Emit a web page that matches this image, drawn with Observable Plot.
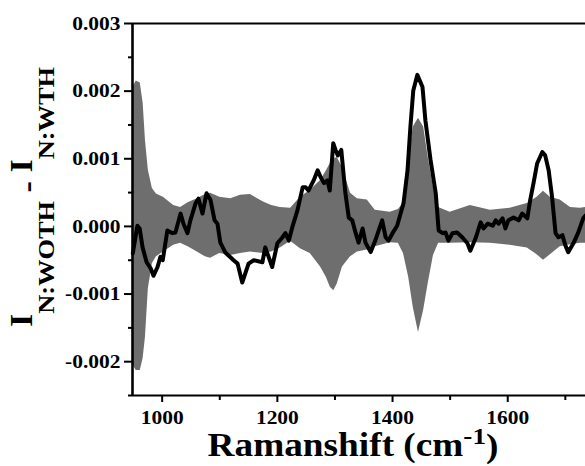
<!DOCTYPE html>
<html><head><meta charset="utf-8">
<script src="https://cdn.jsdelivr.net/npm/d3@7"></script>
<script src="https://cdn.jsdelivr.net/npm/@observablehq/plot@0.6"></script>
<style>
html,body{margin:0;padding:0;background:#fff;overflow:hidden}
</style></head><body><div id="chart"></div>
<script>
// Values in units of 1e-3 (intensity difference)
const bandX = [949,955,962,967,971,976,983,990,1002,1020,1032,1045,1061,1075,1084,1100,1119,1136,1153,1176,1190,1205,1223,1240,1257,1275,1285,1292,1298,1304,1313,1327,1339,1356,1370,1396,1410,1419,1428,1436,1445,1454,1462,1471,1480,1500,1535,1570,1604,1634,1651,1662,1674,1691,1709,1726,1735];
const bandUpper = [2.05,2.15,2.12,1.82,1.27,0.83,0.56,0.48,0.43,0.31,0.28,0.35,0.41,0.47,0.49,0.43,0.41,0.46,0.47,0.36,0.31,0.28,0.27,0.43,0.53,0.68,0.82,0.93,1.0,1.02,0.87,0.49,0.41,0.39,0.24,0.21,0.25,0.34,0.98,1.47,1.6,1.47,1.02,0.58,0.28,0.21,0.31,0.24,0.27,0.34,0.43,0.52,0.43,0.39,0.28,0.27,0.28];
const bandLower = [-2.05,-2.13,-2.13,-1.95,-1.64,-0.92,-0.55,-0.45,-0.38,-0.28,-0.25,-0.3,-0.38,-0.45,-0.47,-0.4,-0.43,-0.4,-0.38,-0.4,-0.38,-0.32,-0.22,-0.33,-0.4,-0.6,-0.75,-0.9,-0.95,-0.85,-0.6,-0.45,-0.38,-0.35,-0.3,-0.24,-0.25,-0.4,-0.75,-1.2,-1.57,-1.24,-0.84,-0.43,-0.25,-0.25,-0.24,-0.25,-0.28,-0.32,-0.42,-0.5,-0.42,-0.3,-0.27,-0.25,-0.25];

const lineX = [949,957,961,966,973,980,985,992,997,1001,1009,1018,1023,1032,1037,1044,1049,1058,1063,1070,1077,1084,1091,1096,1101,1110,1119,1124,1131,1139,1150,1159,1174,1179,1191,1200,1209,1214,1220,1226,1235,1244,1249,1254,1263,1270,1275,1281,1287,1291,1297,1301,1305,1311,1318,1324,1330,1336,1341,1348,1353,1362,1370,1376,1382,1388,1393,1400,1408,1414,1419,1426,1431,1436,1443,1452,1457,1466,1475,1480,1487,1492,1497,1504,1512,1521,1530,1535,1544,1553,1558,1565,1574,1579,1584,1591,1596,1601,1610,1619,1625,1634,1639,1645,1651,1660,1665,1671,1677,1683,1688,1695,1700,1705,1714,1722,1731,1735];
const lineY = [-0.40,0.01,-0.03,-0.31,-0.53,-0.62,-0.73,-0.60,-0.45,-0.50,-0.06,-0.10,-0.09,0.19,0.04,-0.10,0.09,0.34,0.41,0.19,0.49,0.39,0.09,0.04,-0.24,-0.39,-0.46,-0.50,-0.55,-0.83,-0.55,-0.50,-0.53,-0.31,-0.60,-0.25,-0.16,-0.10,-0.21,-0.01,0.24,0.58,0.58,0.53,0.68,0.83,0.73,0.64,0.68,0.53,1.23,1.13,1.05,1.13,0.50,0.13,0.09,-0.10,-0.24,-0.03,-0.24,-0.38,-0.21,-0.06,0.09,-0.16,-0.21,-0.10,0.01,0.19,0.34,0.83,1.47,2.01,2.24,2.06,1.57,0.98,0.49,-0.06,-0.10,-0.09,-0.21,-0.10,-0.09,-0.16,-0.25,-0.36,-0.18,0.06,-0.03,0.04,0.01,0.09,0.04,0.12,-0.03,0.09,0.13,0.09,0.19,0.12,0.39,0.65,0.93,1.10,1.05,0.83,0.43,-0.10,-0.16,-0.13,-0.28,-0.38,-0.25,-0.10,0.12,0.16];

const yTicks = [-0.002,-0.001,0,0.001,0.002,0.003];
const yMinor = [-0.0025,-0.0015,-0.0005,0.0005,0.0015,0.0025];
const xTicks = [1000,1200,1400,1600];
const xMinor = [1100,1300,1500,1700];
const xDomain = [948.5, 1735];
const yDomain = [-0.0025, 0.003];

const E = 1e-3;
const band = bandX.map((x,i)=>({x, lo: bandLower[i]*E, hi: bandUpper[i]*E}));
const line = lineX.map((x,i)=>({x, y: lineY[i]*E}));

const font = "'Liberation Serif','Times New Roman',serif";
const svg = Plot.plot({
  width: 585, height: 466,
  marginTop: 23, marginBottom: 71, marginLeft: 132, marginRight: 0,
  x: {domain: xDomain, axis: null},
  y: {domain: yDomain, axis: null},
  style: {background: "white", fontFamily: font, color: "#000"},
  marks: [
    Plot.areaY(band, {x: "x", y1: "lo", y2: "hi", fill: "#6e6e6e"}),
    Plot.lineY(line, {x: "x", y: "y", stroke: "#000", strokeWidth: 4, strokeLinejoin: "round"}),
    Plot.ruleX([xDomain[0]], {stroke: "#000", strokeWidth: 2.6}),
    Plot.ruleY([yDomain[1]], {stroke: "#000", strokeWidth: 2}),
    Plot.ruleY([yDomain[0]], {stroke: "#000", strokeWidth: 2}),
    Plot.axisY({ticks: yTicks, anchor: "left", tickSize: 8, tickPadding: 4, strokeWidth: 2, tickFormat: d => d.toFixed(3), fontSize: 19, fontWeight: "bold", fontFamily: font, label: null}),
    Plot.axisY({ticks: yMinor, anchor: "left", tickSize: 4, strokeWidth: 2, tickFormat: () => "", label: null}),
    Plot.axisX({ticks: xTicks, anchor: "bottom", tickSize: 7, tickPadding: 8, strokeWidth: 2, tickFormat: d => String(d), fontSize: 19, fontWeight: "bold", fontFamily: font, label: null}),
    Plot.axisX({ticks: xMinor, anchor: "bottom", tickSize: 5, strokeWidth: 2, tickFormat: () => "", label: null})
  ]
});

const s = d3.select(svg);
// horizontal stretch of tick labels around their anchor
const S = 1.13;
s.selectAll('g[aria-label$="tick label"] text').each(function(){
  const x = +this.getAttribute("x") || 0, y = +this.getAttribute("y") || 0;
  const t = this.getAttribute("transform") || "";
  this.setAttribute("transform", `${t} translate(${x},${y}) scale(${S},1) translate(${-x},${-y})`);
  this.setAttribute("font-family", font);
  this.setAttribute("font-weight", "bold");
});

// x title
const xt = s.append("text")
  .attr("transform", `translate(353,456) scale(${S},1)`)
  .attr("text-anchor", "middle").attr("font-family", font).attr("font-weight", "bold")
  .attr("font-size", 33).attr("fill", "#000");
xt.append("tspan").text("Ramanshift (cm");
xt.append("tspan").attr("font-size", 24).attr("dy", -12).text("-1");
xt.append("tspan").attr("dy", 13).text(")");

// y title
const yt = s.append("text")
  .attr("transform", `translate(32,197) rotate(-90) scale(1.1,1)`)
  .attr("text-anchor", "middle").attr("font-family", font).attr("font-weight", "bold")
  .attr("font-size", 31).attr("fill", "#000");
yt.append("tspan").text("I");
yt.append("tspan").attr("font-size", 24).attr("dy", 22).text("N:WOTH");
yt.append("tspan").attr("dy", -17).text("\u00a0-\u00a0");
yt.append("tspan").attr("dy", -5).text("I");
yt.append("tspan").attr("font-size", 24).attr("dy", 22).text("N:WTH");

s.selectAll("text").style("font-family", font);

document.getElementById("chart").appendChild(svg);
</script></body></html>
